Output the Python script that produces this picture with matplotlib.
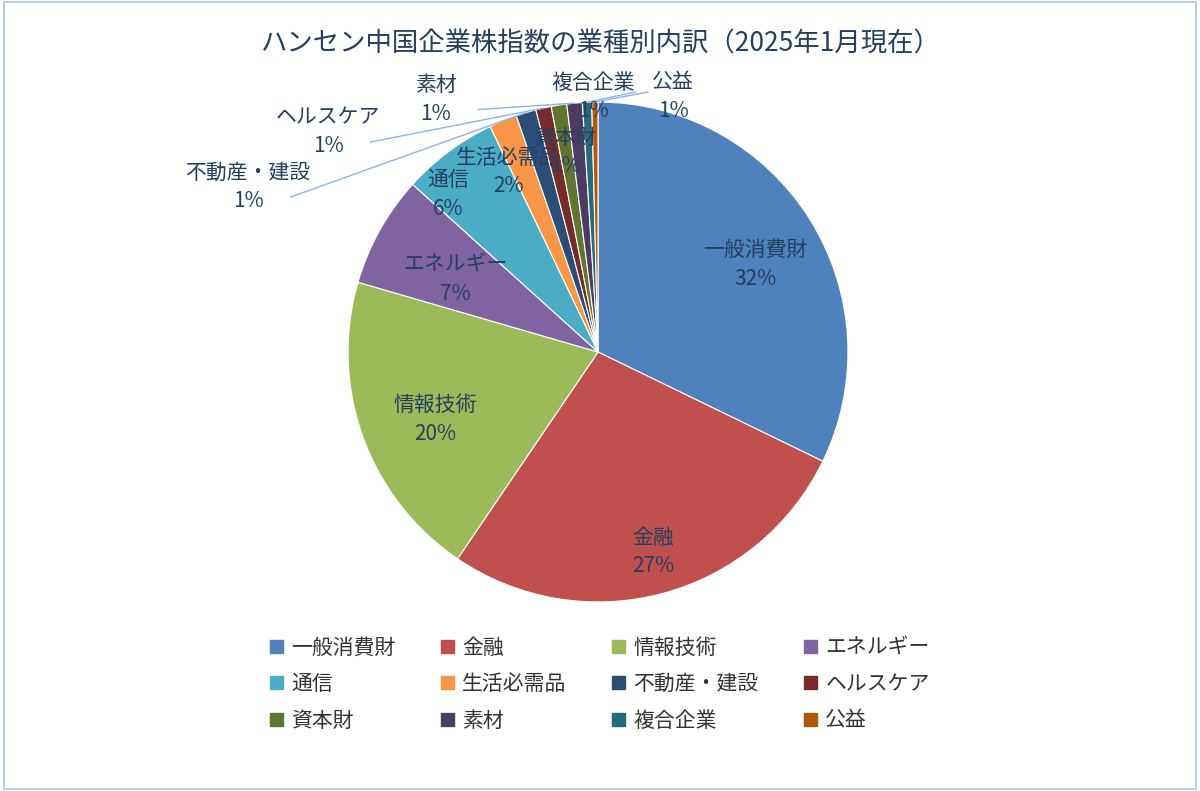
import matplotlib
matplotlib.use("Agg")
import matplotlib.pyplot as plt
import numpy as np

plt.rcParams["font.family"] = ["Noto Sans CJK JP", "DejaVu Sans"]

categories = ["一般消費財", "金融", "情報技術", "エネルギー", "通信", "生活必需品",
              "不動産・建設", "ヘルスケア", "資本財", "素材", "複合企業", "公益"]
values = [32.2, 27.3, 20.0, 7.2, 6.2, 1.8, 1.3, 1.0, 1.0, 1.0, 0.6, 0.4]
pct_labels = ["32%", "27%", "20%", "7%", "6%", "2%", "1%", "1%", "1%", "1%", "1%", "1%"]
colors = ["#4F81BD", "#C0504D", "#9BBB59", "#8064A2", "#4BACC6", "#F79646",
          "#2C4D75", "#772C2A", "#5F7530", "#4D3B62", "#276A7C", "#B65708"]

# label positions (layout)
label_pos = {"一般消費財": (0.63, 0.35), "金融": (0.22, -0.80), "情報技術": (-0.65, -0.27),
             "エネルギー": (-0.57, 0.29), "通信": (-0.60, 0.63), "生活必需品": (-0.36, 0.72),
             "資本財": (-0.13, 0.80), "不動産・建設": (-1.40, 0.66), "ヘルスケア": (-1.08, 0.88),
             "素材": (-0.65, 1.01), "複合企業": (-0.02, 1.02), "公益": (0.30, 1.02)}
leader = {"不動産・建設", "ヘルスケア", "素材", "複合企業", "公益"}

fig = plt.figure(figsize=(12, 7.91), dpi=100)
fig.patches.append(plt.Rectangle((0.003, 0.003), 0.994, 0.994, transform=fig.transFigure,
                                 fill=False, edgecolor="#A9C4E4", lw=1.2))
ax = fig.add_axes([0.29, 0.239, 0.4167, 0.632])
wedges, _ = ax.pie(values, colors=colors, startangle=90, counterclock=False,
                   wedgeprops=dict(edgecolor="white", linewidth=0.8))
ax.set_xlim(-1, 1); ax.set_ylim(-1, 1)
ax.set_aspect("equal")

tc = "#243F60"
for w, name, p in zip(wedges, categories, pct_labels):
    x, y = label_pos[name]
    ax.text(x, y, f"{name}\n{p}", ha="center", va="center", fontsize=15, color=tc,
            linespacing=1.4, clip_on=False)
    if name in leader:
        ang = np.deg2rad((w.theta1 + w.theta2) / 2)
        ex, ey = np.cos(ang), np.sin(ang)
        sx = x + (0.17 if x < 0 else -0.1)
        sy = y - 0.04 if name not in ("公益", "複合企業") else y + 0.02
        ax.plot([sx, ex], [sy, ey], color="#8EB4E3", lw=1, clip_on=False)

fig.text(0.5, 0.945, "ハンセン中国企業株指数の業種別内訳（2025年1月現在）", ha="center",
         va="center", fontsize=19, color=tc)

# row-major legend order for 4 columns
ncol = 4
nrow = int(np.ceil(len(categories) / ncol))
order = [r * ncol + c for c in range(ncol) for r in range(nrow)]
handles = [plt.Rectangle((0, 0), 1, 1, color=colors[i]) for i in order]
labels = [categories[i] for i in order]
fig.legend(handles, labels, loc="center", bbox_to_anchor=(0.5, 0.135), ncol=ncol,
           frameon=False, fontsize=15, handlelength=0.6, handleheight=0.6,
           columnspacing=2.2, labelspacing=0.7, handletextpad=0.4,
           labelcolor="#333333")
fig.savefig("out.png", dpi=100)
